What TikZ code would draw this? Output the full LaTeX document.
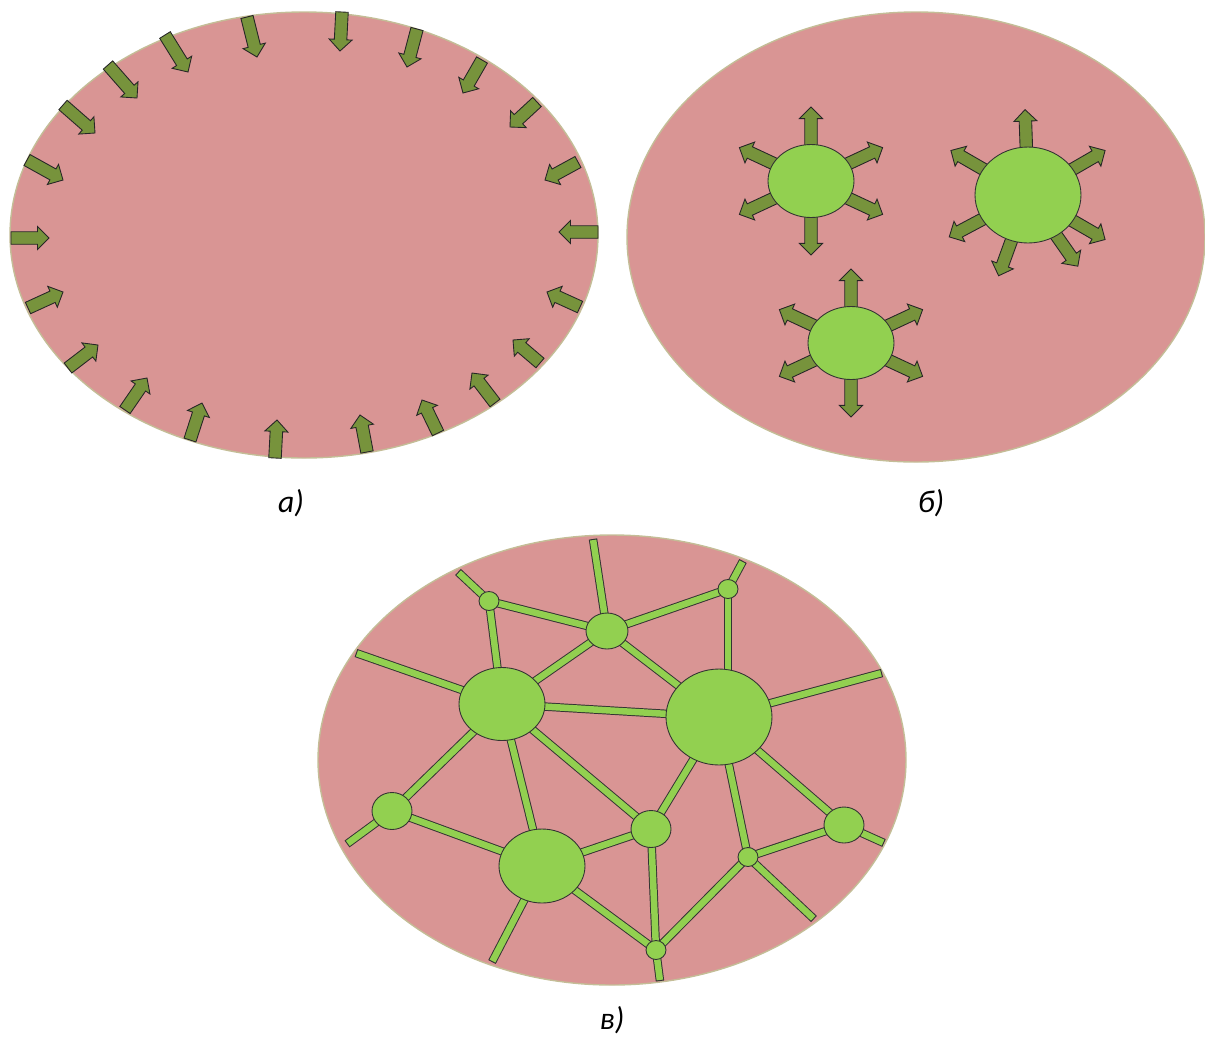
\documentclass[tikz,border=0pt]{standalone}
\usepackage{fontspec}
\setmainfont{Carlito}
\usetikzlibrary{calc,shapes.geometric}

\definecolor{fieldpink}{HTML}{D99594}
\definecolor{fieldedge}{HTML}{C4BD97}
\definecolor{blobgreen}{HTML}{92D050}
\definecolor{arrgreen}{HTML}{77933C}

\pgfdeclarelayer{back}
\pgfdeclarelayer{under}
\pgfsetlayers{back,under,main}

\begin{document}
\begin{tikzpicture}[
    x=0.02cm, y=-0.02cm,
    field/.style={fill=fieldpink,draw=fieldedge,line width=0.8pt},
    blob/.style={ellipse,draw=black!80,fill=blobgreen,line width=0.5pt,inner sep=0pt},
    blobxs/.style={blob,minimum width=0.4cm,minimum height=0.38cm},
    blobs/.style={blob,minimum width=0.8cm,minimum height=0.74cm},
    blobl/.style={blob,minimum width=1.72cm,minimum height=1.46cm},
    blobxl/.style={blob,minimum width=2.12cm,minimum height=1.92cm},
    blockarr/.style={draw=black!85,fill=arrgreen,line width=0.5pt,
        to path={-- ($(\tikztostart)!0.125cm!90:(\tikztotarget)$)
            -- ($($(\tikztotarget)!0.23cm!(\tikztostart)$)!0.125cm!90:(\tikztotarget)$)
            -- ($($(\tikztotarget)!0.23cm!(\tikztostart)$)!0.23cm!90:(\tikztotarget)$)
            -- (\tikztotarget)
            -- ($($(\tikztotarget)!0.23cm!(\tikztostart)$)!0.23cm!-90:(\tikztotarget)$)
            -- ($($(\tikztotarget)!0.23cm!(\tikztostart)$)!0.125cm!-90:(\tikztotarget)$)
            -- ($(\tikztostart)!0.125cm!-90:(\tikztotarget)$) -- cycle}},
    bar/.style={line width=4.8pt,draw=black!80,
        postaction={draw=blobgreen,line width=3.7pt,shorten >=0.6pt,shorten <=0.6pt}},
    lbl/.style={font=\fontsize{18}{21}\selectfont\itshape}
]
\useasboundingbox (0,0) rectangle (1205,1036);

% the three fields
\begin{pgfonlayer}{back}
\draw[field] (304,235) ellipse [x radius=294, y radius=223];
\draw[field] (916,237) ellipse [x radius=289, y radius=225];
\draw[field] (612,760) ellipse [x radius=294, y radius=225];
\end{pgfonlayer}

% a) arrows pointing in
\foreach \xa/\ya/\xb/\yb in {11/238/49/238, 28/308/63/292, 68/368/98/345,
    125/410/147/378, 190/440/202/403, 275/458/277/420, 367/452/360/415,
    438/433/422/400, 495/403/472/373, 540/363/513/340, 580/307/547/292,
    598/232/559/232, 578/162/545/180, 537/102/510/127, 482/60/463/93,
    417/29/407/67, 342/12/340/51, 247/17/257/57, 165/35/188/72,
    108/65/137/98, 63/105/95/133, 27/160/63/180}
  \draw[blockarr] (\xa,\ya) to (\xb,\yb);

% b) growing nuclei
\node[blobl] (b1) at (811,181) {};
\node[blobxl] (b2) at (1028,195) {};
\node[blobl] (b3) at (851,343) {};
\begin{pgfonlayer}{under}
\foreach \nuc/\angs in {b1/{90,155,25,205,335,270},
    b2/{92,150,30,208,330,250,305}, b3/{90,155,25,205,335,270}}
  \foreach \a in \angs {
    \coordinate (tl) at ($(\nuc.\a)!0.06cm!(\nuc.center)$);
    \coordinate (tp) at ($(\nuc.\a)!-0.74cm!(\nuc.center)$);
    \draw[blockarr] (tl) to (tp);
  }
\end{pgfonlayer}

% c) network of grains
\node[blobxs] (n1) at (489,601) {};
\node[blobs, minimum width=0.84cm, minimum height=0.72cm] (n2) at (607,631) {};
\node[blobxs] (n3) at (728,589) {};
\node[blobl] (n4) at (502,704) {};
\node[blobxl] (n5) at (719,717) {};
\node[blobs] (n6) at (392,811) {};
\node[blobl, minimum height=1.48cm] (n7) at (542,866) {};
\node[blobs] (n8) at (651,829) {};
\node[blobs, minimum height=0.72cm] (n9) at (844,825) {};
\node[blobxs] (n10) at (748,857) {};
\node[blobxs] (n11) at (656,950) {};

\coordinate (e1) at (458,572);
\coordinate (e2) at (593,539);
\coordinate (e3) at (743,561);
\coordinate (e4) at (356,653);
\coordinate (e5) at (882,673);
\coordinate (e6) at (347,844);
\coordinate (e7) at (492,962);
\coordinate (e8) at (884,843);
\coordinate (e9) at (814,919);
\coordinate (e10) at (660,981);

\begin{pgfonlayer}{under}
\foreach \p/\q in {n1/e1, n1/n2, n1/n4, n2/e2, n2/n3, n2/n4, n2/n5,
    n3/e3, n4/e4, n4/n5, n4/n6, n4/n7, n4/n8, n5/e5, n5/n8,
    n5/n9, n5/n10, n6/e6, n6/n7, n7/n8, n7/e7, n7/n11, n8/n11,
    n9/n10, n9/e8, n10/n11, n10/e9, n11/e10}
  \draw[bar] (\p.center) -- (\q.center);
\draw[bar] (n3.center) -- (n3.center |- n5.center);
\end{pgfonlayer}

% captions
\node[lbl] (la) at (291,503) {а)};
\node[lbl] (lb) at (931,503) {б)};
\node[lbl] (lc) at (612,1020) {в)};
\end{tikzpicture}
\end{document}
